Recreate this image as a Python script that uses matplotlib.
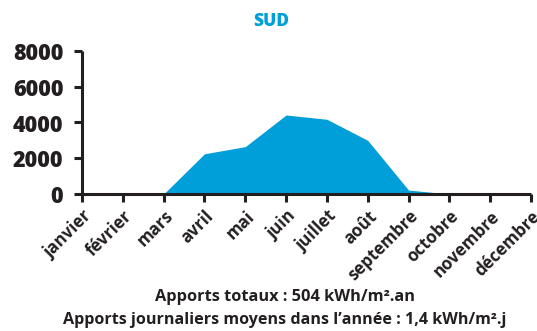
import numpy as np
import matplotlib.pyplot as plt

# Apports solaires mensuels - façade sud
mois = ['janvier', 'février', 'mars', 'avril', 'mai', 'juin', 'juillet',
        'août', 'septembre', 'octobre', 'novembre', 'décembre']
apports = [0, 0, 0, 2250, 2650, 4420, 4180, 3000, 220, 0, 0, 0]
y_ticks = [0, 2000, 4000, 6000, 8000]

bleu = '#009fda'
noir = '#231f20'

plt.rcParams['font.family'] = ['Open Sans', 'DejaVu Sans']

fig = plt.figure(figsize=(5.37, 3.31), dpi=100)
ax = fig.add_axes([82 / 537, 1 - 194 / 331, (531 - 82) / 537, (194 - 51) / 331])

x = np.arange(len(mois))
ax.fill_between(x, apports, 0, color=bleu, linewidth=0)

ax.set_xlim(0, len(mois) - 1)
ax.set_ylim(0, 8000)
ax.set_xticks(x)
ax.set_xticklabels(mois, rotation=45, ha='right', va='top',
                   rotation_mode='anchor', fontsize=12.2, fontweight='bold', color=noir)
ax.set_yticks(y_ticks)
ax.set_yticklabels([str(v) for v in y_ticks], fontsize=15.5, fontweight=800, color=noir)

for s in ['top', 'right']:
    ax.spines[s].set_visible(False)
for s in ['left', 'bottom']:
    ax.spines[s].set_linewidth(2.2)
    ax.spines[s].set_color(noir)
    ax.spines[s].set_capstyle('butt')
ax.tick_params(axis='both', length=5.5, width=2.2, color=noir)
ax.tick_params(axis='y', pad=8)
ax.tick_params(axis='x', pad=4)

fig.text(271 / 537, 1 - 22 / 331, 'SUD', ha='center', va='center',
         fontsize=12.5, fontweight=800, color=bleu)
fig.text(285 / 537, 1 - 297 / 331, 'Apports totaux : 504 kWh/m².an', ha='center', va='center',
         fontsize=11.8, fontweight='bold', color=noir)
fig.text(285 / 537, 1 - 320 / 331, 'Apports journaliers moyens dans l’année : 1,4 kWh/m².j',
         ha='center', va='center', fontsize=11.6, fontweight='bold', color=noir)

fig.savefig('out.png', dpi=100)
